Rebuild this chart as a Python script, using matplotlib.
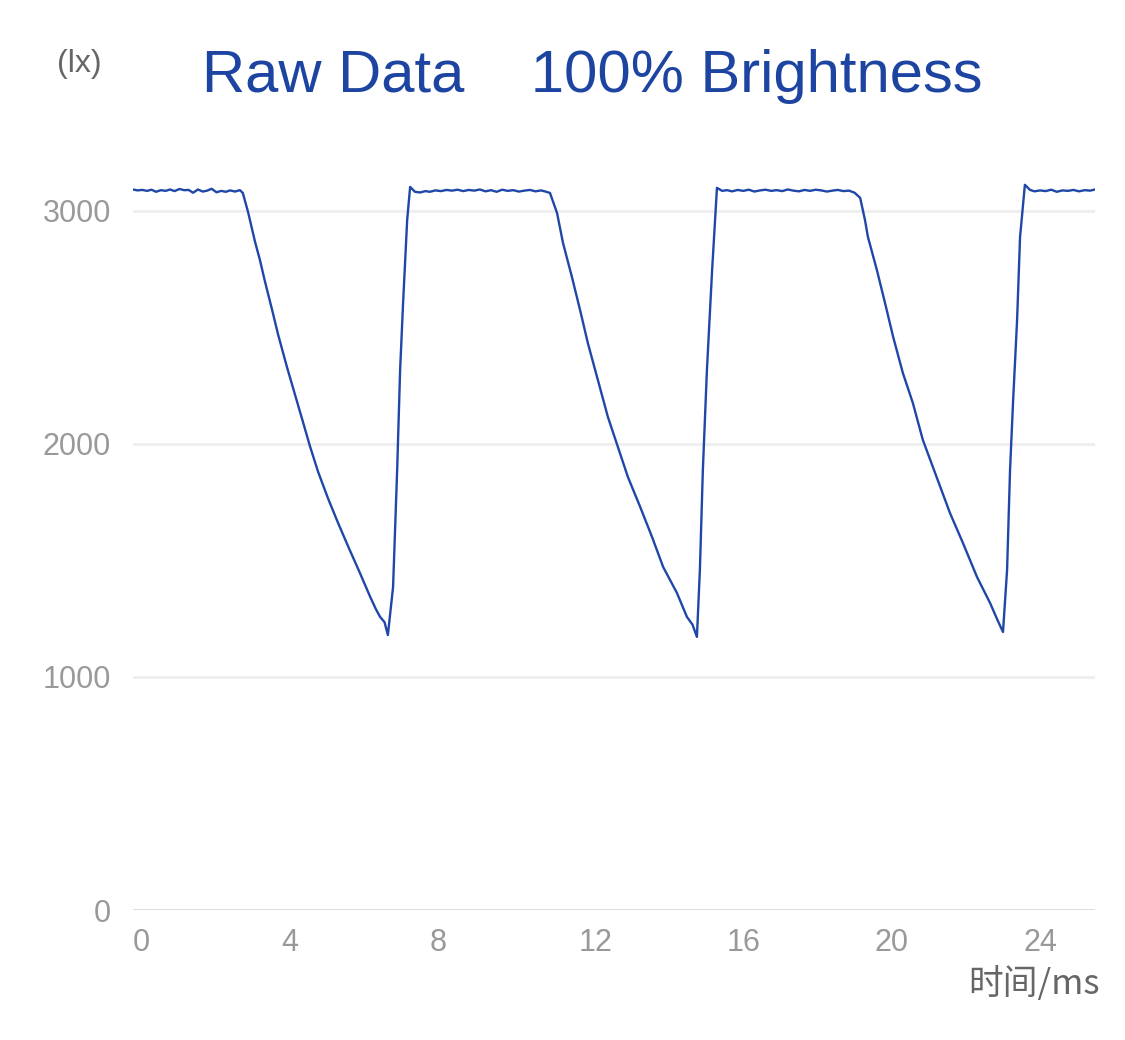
import matplotlib.pyplot as plt
import numpy as np

# illuminance trace (ms, lx)
t_ms = [
    # flat 1
    0.00, 0.12, 0.25, 0.38, 0.50, 0.62, 0.75, 0.88, 1.00, 1.12, 1.25, 1.38,
    1.50, 1.62, 1.75, 1.88, 2.00, 2.12, 2.25, 2.38, 2.50, 2.62, 2.75, 2.88,
    # drop 1
    2.96, 3.10, 3.29, 3.42, 3.56, 3.75, 3.91, 4.15, 4.37, 4.58, 4.77, 4.99,
    5.26, 5.53, 5.80, 6.12, 6.39, 6.55, 6.66, 6.78, 6.87,
    # rise 1
    7.01, 7.12, 7.20, 7.28, 7.39, 7.47,
    # flat 2
    7.60, 7.74, 7.88, 8.00, 8.15, 8.30, 8.45, 8.60, 8.75, 8.90, 9.05, 9.20,
    9.35, 9.50, 9.65, 9.80, 9.95, 10.10, 10.25, 10.40, 10.55, 10.70, 10.85,
    11.00, 11.12,
    # drop 2
    11.24, 11.43, 11.59, 11.83, 12.05, 12.26, 12.53, 12.80, 13.07, 13.34,
    13.67, 13.99, 14.29, 14.66, 14.93, 15.08, 15.20,
    # rise 2
    15.28, 15.36, 15.47, 15.61, 15.74,
    # flat 3
    15.88, 16.01, 16.15, 16.30, 16.45, 16.60, 16.75, 16.90, 17.05, 17.20,
    17.35, 17.50, 17.65, 17.80, 17.95, 18.10, 18.25, 18.40, 18.55, 18.70,
    18.85, 19.00, 19.15, 19.30, 19.45,
    # drop 3
    19.60, 19.73, 19.81, 20.05, 20.27, 20.49, 20.75, 21.02, 21.29, 21.66,
    22.02, 22.37, 22.75, 23.10, 23.30, 23.45,
    # rise 3
    23.56, 23.64, 23.72, 23.83, 23.91, 24.04,
    # flat 4
    24.18, 24.30, 24.45, 24.60, 24.75, 24.90, 25.05, 25.20, 25.35, 25.50,
    25.65, 25.80, 25.93,
]

lux = [
    # flat 1
    3092, 3088, 3090, 3086, 3091, 3082, 3089, 3086, 3092, 3085, 3094, 3089,
    3090, 3078, 3092, 3083, 3087, 3095, 3080, 3086, 3082, 3088, 3083, 3089,
    # drop 1
    3077, 2996, 2867, 2790, 2695, 2575, 2470, 2330, 2210, 2095, 1990, 1880,
    1765, 1660, 1560, 1445, 1345, 1290, 1258, 1235, 1180,
    # rise 1
    1386, 1888, 2318, 2605, 2961, 3103,
    # flat 2
    3082, 3079, 3085, 3082, 3088, 3085, 3090, 3087, 3091, 3085, 3090, 3087,
    3092, 3084, 3089, 3082, 3091, 3086, 3089, 3083, 3087, 3090, 3084, 3088,
    3083,
    # drop 2
    3077, 2991, 2863, 2717, 2575, 2433, 2275, 2116, 1987, 1858, 1730, 1601,
    1472, 1361, 1258, 1225, 1172,
    # rise 2
    1459, 1888, 2318, 2747, 3099,
    # flat 3
    3086, 3089, 3084, 3090, 3086, 3091, 3083, 3088, 3091, 3086, 3089, 3085,
    3092, 3087, 3084, 3090, 3086, 3091, 3088, 3083, 3087, 3090, 3085, 3087,
    3078,
    # drop 3
    3056, 2961, 2888, 2747, 2605, 2459, 2305, 2176, 2017, 1858, 1704, 1575,
    1429, 1318, 1245, 1193,
    # rise 3
    1459, 1888, 2176, 2532, 2888, 3112,
    # flat 4
    3090, 3084, 3088, 3085, 3091, 3082, 3088, 3086, 3090, 3084, 3089, 3087,
    3092,
]

x_ticks = [0, 4, 8, 12, 16, 20, 24]
y_ticks = [0, 1000, 2000, 3000]

plt.rcParams['font.family'] = ['Liberation Sans', 'Noto Sans CJK SC', 'DejaVu Sans']

fig = plt.figure(figsize=(11.25, 10.4), dpi=100)
ax = fig.add_axes([133 / 1125, 130 / 1040, 962 / 1125, 769 / 1040])

ax.plot(t_ms, lux, color='#1f47a8', lw=1.7, zorder=3)

ax.set_xlim(0, 25.93)
ax.set_ylim(0, 3300)
ax.set_xticks(x_ticks)
ax.set_yticks(y_ticks)
ax.set_xticklabels([str(v) for v in x_ticks], ha='left')
ax.tick_params(axis='both', length=0, labelsize=22, labelcolor='#999999')
ax.tick_params(axis='x', pad=13)
ax.tick_params(axis='y', pad=16)
ax.grid(axis='y', color='#eeeeee', lw=2)
ax.grid(axis='x', visible=False)
ax.axhline(0, color='#dddddd', lw=2, zorder=2)
for s in ax.spines.values():
    s.set_visible(False)

fig.text(592 / 1125, 1 - 77 / 1040, 'Raw Data    100% Brightness',
         ha='center', va='center', fontsize=43, color='#1c44a0')
fig.text(79 / 1125, 1 - 64 / 1040, '(lx)', ha='center', va='center',
         fontsize=23, color='#666666')
fig.text(1100 / 1125, 1 - 984 / 1040, '时间/ms', ha='right', va='center',
         fontsize=25, color='#666666',
         family=['Noto Sans CJK SC', 'DejaVu Sans'])

plt.savefig('out.png', dpi=100)
